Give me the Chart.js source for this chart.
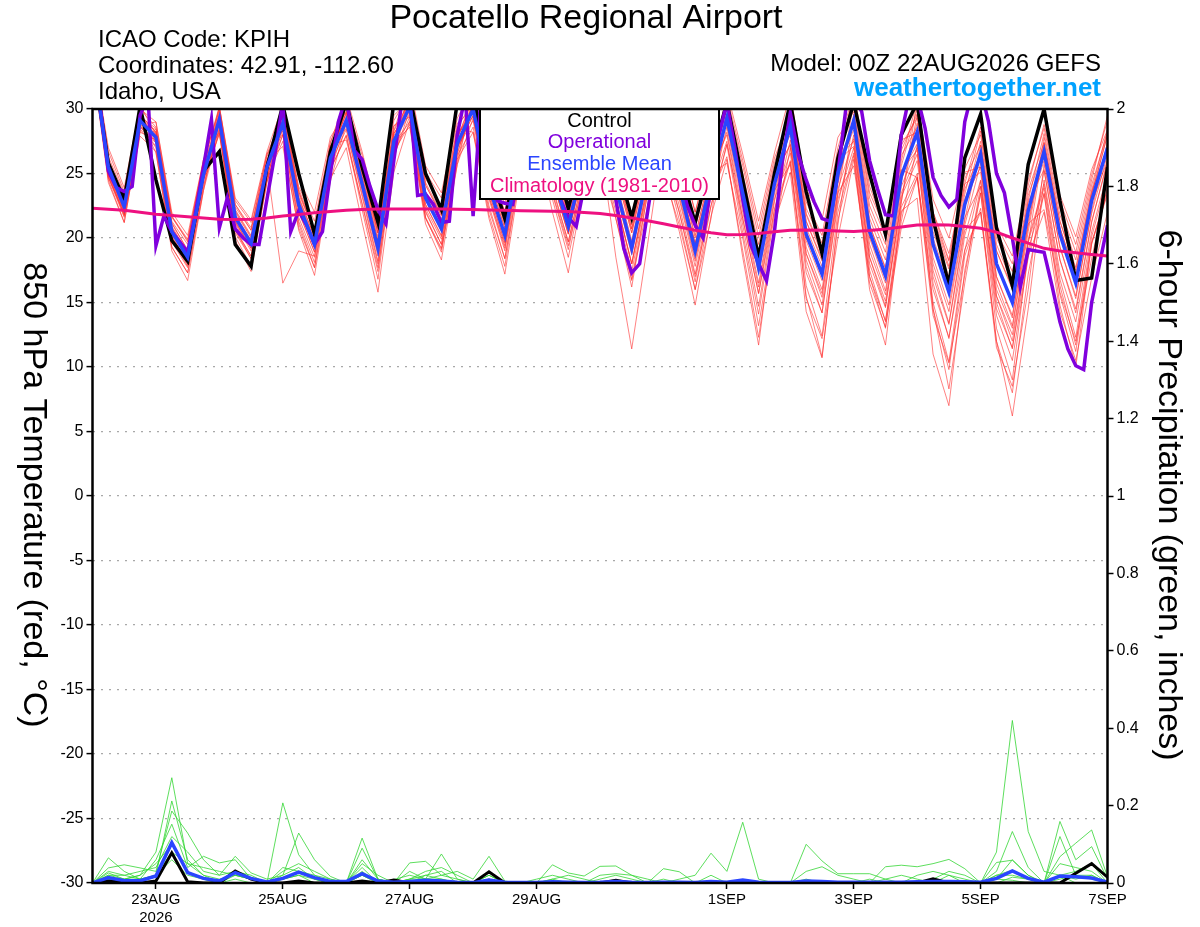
<!DOCTYPE html>
<html><head><meta charset="utf-8">
<script src="https://cdn.jsdelivr.net/npm/chart.js@4.4.1/dist/chart.umd.min.js"></script>
<style>html,body{margin:0;padding:0;background:#fff;}canvas{display:block;}</style>
</head><body>
<canvas id="c" width="1200" height="927"></canvas>
<script>
// ---------- time axis (forecast hours from 00Z 22AUG2026) ----------
const hours6 = [0,6,12,18,24,30,36,42,48,54,60,66,72,78,84,90,96,102,108,114,120,126,132,138,144,150,156,162,168,174,180,186,192,198,204,210,216,222,228,234,240,246,252,258,264,270,276,282,288,294,300,306,312,318,324,330,336,342,348,354,360,366,372,378,384];
const hours3 = [0,3,6,9,12,15,18,21,24,27,30,33,36,39,42,45,48,51,54,57,60,63,66,69,72,75,78,81,84,87,90,93,96,99,102,105,108,111,114,117,120,123,126,129,132,135,138,141,144,147,150,153,156,159,162,165,168,171,174,177,180,183,186,189,192,195,198,201,204,207,210,213,216,219,222,225,228,231,234,237,240,243,246,249,252,255,258,261,264,267,270,273,276,279,282,285,288,291,294,297,300,303,306,309,312,315,318,321,324,327,330,333,336,339,342,345,348,351,354,357,360,363,366,369,372,375,378,381,384];
const dateTickHours = [24,72,120,168,240,288,336,384];
const dateTickLabels = [['23AUG','2026'],'25AUG','27AUG','29AUG','1SEP','3SEP','5SEP','7SEP'];
const tempTicks = [-30,-25,-20,-15,-10,-5,0,5,10,15,20,25,30];
const precipTicks = [0,0.2,0.4,0.6,0.8,1,1.2,1.4,1.6,1.8,2];

// ---------- 850 hPa temperature (°C) ----------
const controlTemp = [34.0,25.8,23.0,30.2, 24.5,19.8,18.2,25.2, 26.7,19.5,17.8,25.5, 30.3,25.0,20.3,26.7, 30.5,25.5,21.2,30.5, 31.0,25.0,22.2,30.5, 31.0,25.5,21.5,27.0, 31.0,27.0,22.3,27.0, 30.5,26.0,21.6,26.5, 30.0,25.5,21.2,26.0, 30.5,24.5,18.5,25.0, 30.5,23.6,18.8,26.2, 30.5,25.0,20.3,28.0, 30.5,21.5,16.3,26.2, 29.6,20.8,16.3,25.7, 30.0,22.9,16.7,16.9, 25.5];
const meanTemp = [34.0,25.5,22.4,29.1, 27.8,20.5,18.5,24.9, 29.2,21.6,19.6,25.5, 28.9,22.6,19.5,26.2, 29.1,24.2,19.2,27.5, 30.2,23.1,20.7,27.3, 30.0,24.0,20.2,27.0, 29.5,25.0,20.9,26.0, 28.5,24.0,19.2,25.0, 28.0,24.0,19.0,24.5, 29.3,23.5,17.7,24.2, 28.7,20.3,17.2,25.0, 29.1,20.5,17.1,24.8, 28.2,19.5,15.8,22.6, 26.5,18.0,15.0,22.1, 26.7,20.3,16.5,22.9, 27.0];
const operationalTemp = [32.0,30.0,25.2,23.9,23.6,24.0,29.5,31.0, 19.4,21.7,20.5,19.7,18.9,22.0,25.5,29.2, 20.8,23.1,20.7,20.0,19.5,19.5,23.0,26.5, 30.5,20.5,22.1,21.0,19.5,20.5,25.0,29.0, 31.0,26.8,26.1,24.0,22.2,21.1,26.0,30.5, 31.0,23.3,23.4,22.6,21.2,21.3,28.0,31.0, 21.7,31.0,27.0,22.9,22.7,22.6,26.0,29.0, 30.5,28.0,25.0,23.0,21.6,20.9,24.0,27.0, 29.0,27.0,23.0,19.2,17.3,18.0,22.0,26.0, 28.0,27.0,25.0,22.5,21.0,20.0,24.0,28.0, 30.5,27.0,23.0,19.5,18.0,16.7,20.5,26.0, 29.7,26.5,24.5,22.8,21.5,21.3,25.0,30.0, 31.0,29.8,26.0,23.8,21.8,21.7,28.0,31.0, 31.0,28.5,24.7,23.3,22.4,23.0,29.0,31.5, 31.5,29.0,25.0,23.5,20.0,16.2,19.1,19.0, 18.9,16.3,13.5,11.4,10.1,9.8,15.0,18.0, 21.0];
const climatologyTemp = [22.30,22.22,22.15,22.00,21.85,21.75,21.65,21.55,21.45,21.43,21.45,21.55,21.70,21.82,21.95,22.05,22.15,22.20,22.25,22.25,22.25,22.25,22.25,22.22,22.20,22.18,22.15,22.12,22.10,22.08,22.05,21.98,21.90,21.75,21.55,21.33,21.10,20.85,20.60,20.40,20.25,20.28,20.35,20.48,20.60,20.62,20.60,20.55,20.50,20.58,20.70,20.85,21.00,21.02,21.00,20.90,20.75,20.45,20.00,19.60,19.20,19.00,18.85,18.72,18.60];

const memberTemp01 = [34.2,26.3,23.4,29.6, 28.2,21.2,19.0,25.3, 29.8,22.4,20.6,26.0, 29.1,23.0,19.9,26.4, 29.8,25.4,20.4,28.3, 30.6,23.5,21.3,27.7, 30.8,25.3,21.6,28.0, 30.0,25.9,21.9,26.7, 29.2,25.1,20.4,25.8, 28.4,24.6,19.6,24.9, 30.7,25.6,20.1,25.8, 29.8,21.9,19.0,26.2, 30.9,23.1,20.1,26.8, 29.6,21.6,18.2,24.2, 28.6,21.0,18.6,24.5, 28.5,22.9,19.5,24.9, 29.1];
const memberTemp02 = [33.8,25.0,21.8,28.7, 27.1,19.3,17.3,24.0, 28.6,20.7,18.6,24.9, 28.0,21.3,18.1,25.3, 28.0,22.6,17.4,26.4, 29.4,22.0,19.5,26.4, 28.6,21.8,17.8,25.6, 28.4,23.4,19.1,24.8, 27.1,22.0,16.8,23.4, 26.2,21.4,16.0,22.5, 27.2,20.4,14.1,21.8, 25.9,16.3,12.4,22.0, 26.6,17.0,13.0,21.9, 24.7,14.5,9.8,18.6, 22.3,12.0,8.0,17.2, 23.5,15.6,11.2,19.5, 23.8];
const memberTemp03 = [34.0,25.9,22.8,29.4, 28.5,21.6,19.8,25.7, 29.5,22.2,20.2,25.9, 30.0,24.0,21.3,27.4, 30.5,26.4,21.6,29.1, 31.2,24.6,22.5,28.5, 30.7,25.0,21.4,27.8, 30.9,27.0,23.3,27.6, 29.5,25.5,21.0,26.2, 29.8,26.5,22.0,26.5, 30.0,24.5,18.9,25.0, 30.1,22.3,19.6,26.6, 30.1,22.0,18.9,26.0, 30.6,23.0,20.0,25.4, 28.0,20.0,17.4,23.7, 27.4,21.3,17.7,23.7, 28.4];
const memberTemp04 = [33.6,24.5,21.2,28.3, 27.4,20.0,17.9,24.5, 28.1,20.1,17.8,24.3, 28.5,22.1,18.9,25.8, 28.4,23.2,18.0,26.7, 28.8,21.1,18.3,25.7, 29.3,23.0,19.0,26.2, 29.1,24.5,20.3,25.6, 27.4,22.5,17.4,23.8, 27.2,23.0,17.8,23.7, 27.5,21.0,14.7,22.2, 27.6,18.8,15.4,23.8, 27.7,18.5,14.7,23.2, 26.0,16.5,12.2,20.2, 24.5,15.5,12.0,19.9, 24.2,16.8,12.3,20.1, 24.6];
const memberTemp05 = [34.1,26.0,22.9,29.5, 27.6,20.2,18.1,24.6, 29.4,21.8,19.8,25.7, 16.5,19.0,18.6,25.5, 29.5,24.7,19.8,27.9, 30.9,24.1,21.8,28.1, 29.7,23.5,19.6,26.6, 29.8,25.5,21.5,26.4, 27.8,23.0,18.0,24.2, 28.0,24.0,19.0,24.5, 30.4,25.0,19.5,25.4, 28.0,19.3,16.0,24.2, 29.4,21.0,17.7,25.2, 26.8,17.5,13.4,21.0, 25.8,17.0,13.8,21.3, 27.0,20.8,17.1,23.3, 28.0];
const memberTemp06 = [33.9,25.2,22.0,28.9, 28.4,21.3,19.5,25.5, 28.9,21.1,19.0,25.1, 29.2,23.1,20.1,26.6, 28.8,23.7,18.6,27.1, 30.6,23.6,21.3,27.7, 31.0,25.5,22.0,28.2, 28.8,24.0,19.7,25.2, 28.9,24.5,19.8,25.4, 26.9,22.5,17.2,23.3, 28.6,22.5,16.5,23.4, 29.1,20.8,17.8,25.4, 28.4,19.5,15.9,24.0, 27.0,14.5,8.3,16.5, 23.5,14.0,10.5,18.5, 25.2,18.3,14.2,21.2, 26.0];
const memberTemp07 = [34.4,26.7,23.6,30.0, 29.0,22.0,20.2,26.1, 29.9,22.6,20.8,26.3, 29.6,23.6,20.5,27.0, 29.1,24.2,19.0,27.5, 29.6,22.1,19.5,26.6, 30.3,24.5,20.8,27.4, 30.2,26.0,22.0,26.8, 30.0,26.0,21.6,26.6, 28.7,25.0,20.2,25.3, 29.3,23.5,17.5,24.2, 30.5,22.8,20.2,27.0, 31.2,23.5,20.7,27.2, 29.3,21.0,17.6,23.8, 26.5,18.0,15.0,22.1, 26.0,19.3,15.3,22.1, 27.4];
const memberTemp08 = [33.7,24.7,21.6,27.9, 26.7,19.0,16.7,23.7, 28.4,20.6,18.4,24.7, 27.5,20.6,17.1,24.6, 27.0,21.2,15.8,25.1, 29.1,21.6,18.9,26.1, 28.2,21.5,17.2,25.0, 28.1,23.0,18.5,24.4, 27.8,23.0,18.0,24.2, 25.5,20.5,14.8,21.7, 26.1,19.0,12.3,20.6, 27.0,17.8,14.2,23.0, 27.0,17.5,13.5,22.4, 25.0,15.0,10.4,19.0, 24.4,15.0,11.4,19.7, 23.9,16.3,11.7,19.7, 23.5];
const memberTemp09 = [34.0,25.5,22.4,29.4, 28.0,20.8,18.9,25.8, 30.1,22.9,21.2,26.5, 29.5,23.4,20.5,26.8, 28.5,23.4,18.2,26.9, 31.6,25.1,23.1,28.9, 30.0,24.0,20.2,27.0, 29.1,24.5,20.3,25.6, 29.2,25.0,20.4,25.8, 29.0,25.5,20.8,25.7, 31.0,26.0,20.7,26.2, 29.4,21.3,18.4,25.8, 28.8,20.0,16.5,24.4, 28.9,20.5,17.0,23.4, 28.3,20.5,18.0,24.1, 28.8,23.3,20.1,25.3, 28.4];
const memberTemp10 = [34.3,24.7,21.9,28.7, 27.0,19.7,17.7,24.1, 28.9,21.3,19.3,25.2, 28.6,22.3,19.2,25.9, 30.2,25.7,20.7,28.7, 29.8,22.6,20.2,26.9, 31.3,25.8,22.0,28.4, 30.6,26.5,22.4,27.2, 27.5,18.5,11.4,19.5, 28.0,24.5,19.5,24.9, 28.2,22.0,16.2,23.0, 26.6,17.3,14.2,22.6, 28.0,19.0,15.6,23.5, 26.5,17.0,13.3,20.6, 22.0,12.0,6.2,14.5, 24.5,17.3,13.5,20.5, 25.0];
const memberTemp11 = [33.5,24.3,21.2,28.2, 27.6,20.8,18.2,25.2, 29.0,21.3,19.2,25.3, 28.6,22.8,19.4,26.4, 29.7,25.0,20.1,28.1, 30.0,23.3,20.5,27.0, 29.5,23.2,19.2,26.4, 29.2,25.3,20.7,26.3, 30.5,26.5,21.9,27.0, 29.5,26.0,21.2,26.1, 29.6,24.0,18.3,24.6, 27.3,18.3,14.8,23.4, 30.5,22.5,19.5,26.4, 28.6,20.0,16.4,23.0, 25.5,16.5,13.2,20.9, 27.8,21.8,18.3,24.1, 28.2];
const memberTemp12 = [34.1,25.7,22.6,30.0, 28.6,21.7,19.9,25.9, 30.2,23.1,21.4,26.7, 30.3,24.6,22.0,27.8, 29.8,25.2,20.4,28.3, 32.0,25.6,23.5,29.3, 31.6,26.0,22.6,28.6, 31.6,28.0,24.5,28.4, 28.8,23.7,19.4,25.3, 27.6,23.5,18.4,24.1, 31.4,26.5,21.3,26.6, 31.2,23.8,21.4,27.8, 29.8,21.5,18.3,25.6, 30.0,22.0,18.8,24.6, 27.2,19.0,16.2,22.9, 28.1,22.3,18.9,24.5, 29.5];
const memberTemp13 = [33.9,25.3,22.1,28.8, 27.4,19.9,17.8,24.5, 28.1,19.8,17.4,24.4, 28.0,21.1,17.7,25.3, 27.9,22.2,16.8,26.3, 29.9,22.6,20.1,27.0, 29.1,22.5,18.4,26.1, 27.7,22.0,17.3,24.2, 27.0,21.5,16.2,23.5, 26.8,22.0,16.6,23.3, 26.3,18.5,11.7,21.2, 25.1,14.3,10.7,21.4, 26.4,16.0,11.7,22.1, 23.1,11.0,7.0,17.5, 23.5,13.0,9.0,19.1, 23.4,14.8,10.0,19.6, 23.4];
const memberTemp14 = [34.5,27.0,23.9,30.3, 28.0,20.7,18.7,25.1, 29.4,21.4,19.8,25.3, 30.1,23.8,20.7,27.4, 31.0,26.7,21.7,29.5, 30.7,23.6,21.2,27.8, 30.2,23.8,20.4,27.2, 30.0,25.5,21.4,26.5, 29.5,25.5,20.7,26.5, 30.0,27.0,22.0,27.0, 30.3,24.5,18.7,25.2, 28.9,20.0,17.4,25.2, 31.5,24.0,20.6,27.6, 28.2,19.7,15.6,22.8, 27.5,19.5,16.5,23.3, 26.9,20.1,16.7,22.7, 26.0];
const memberTemp15 = [33.6,24.8,21.7,28.4, 27.6,20.3,18.3,24.7, 29.6,22.1,20.1,26.0, 28.1,21.6,18.5,25.2, 29.1,24.0,19.4,27.3, 29.0,21.6,19.2,26.1, 30.6,24.8,21.0,27.6, 28.5,23.8,19.7,25.0, 28.3,24.2,19.0,25.2, 28.8,25.0,20.0,25.3, 28.0,21.5,15.7,22.8, 29.8,21.8,18.7,26.2, 27.5,18.0,14.6,22.8, 29.6,21.5,17.8,24.2, 25.1,16.0,13.0,20.5, 27.4,21.3,17.5,23.6, 27.0];
const memberTemp16 = [34.2,25.9,22.8,29.5, 28.2,21.1,19.1,25.4, 28.4,20.4,18.4,24.6, 29.3,23.2,20.1,26.7, 28.9,23.9,18.9,27.3, 30.9,24.1,21.7,28.1, 29.4,23.2,19.4,26.4, 29.7,25.3,21.2,26.2, 28.1,23.5,18.7,24.6, 27.5,23.2,18.2,23.9, 29.6,24.0,18.2,24.6, 28.4,19.8,16.7,24.6, 29.3,20.2,16.8,25.0, 27.3,18.0,14.3,21.4, 27.2,19.0,16.0,22.8, 25.3,18.3,14.5,21.3, 25.8];
const memberTemp17 = [34.0,26.1,23.0,29.7, 27.4,20.1,18.1,24.5, 30.2,22.6,20.6,26.5, 28.3,22.0,18.9,25.6, 30.3,25.4,20.4,28.7, 29.4,22.3,19.9,26.5, 30.5,24.5,20.7,27.5, 28.0,23.5,19.4,24.5, 30.0,25.5,20.7,26.5, 26.0,22.0,17.0,22.5, 27.3,21.5,15.7,22.2, 26.0,15.5,10.8,21.0, 29.6,21.0,17.6,25.3, 24.7,16.0,12.3,19.1, 22.0,11.5,8.5,16.0, 25.7,19.3,15.5,21.9, 26.5];
const memberTemp18 = [33.6,25.1,22.0,28.7, 29.0,21.7,19.7,26.1, 28.2,20.6,18.6,24.5, 29.9,23.6,20.5,27.2, 27.6,22.7,17.7,26.0, 31.4,24.3,21.9,28.5, 28.2,22.2,18.4,25.2, 30.3,25.8,21.7,26.8, 26.0,21.5,16.7,22.5, 28.5,24.5,19.5,25.0, 25.8,20.0,13.2,20.7, 29.7,21.3,18.2,26.0, 27.1,18.5,15.1,22.8, 30.7,22.0,18.3,25.1, 25.5,17.0,14.0,21.1, 22.2,15.8,12.0,18.4, 24.0];
const memberTemp19 = [34.1,25.6,22.5,29.2, 26.6,19.3,17.3,23.7, 29.6,22.0,20.0,25.9, 27.1,20.8,17.7,24.4, 28.9,24.0,19.0,27.3, 28.6,21.5,19.1,25.7, 31.0,25.0,21.2,28.0, 29.0,24.5,20.4,25.5, 28.2,23.7,18.9,24.7, 25.0,21.0,16.0,21.5, 30.1,24.3,18.5,25.0, 27.2,18.8,15.7,23.5, 25.6,17.0,13.6,21.3, 27.2,18.5,14.8,21.6, 24.0,15.5,12.5,19.6, 27.2,20.8,17.0,23.4, 28.0];
const memberTemp20 = [33.4,24.9,21.8,28.5, 28.2,20.9,18.9,25.3, 28.8,21.2,19.2,25.1, 29.1,22.8,19.7,26.4, 29.7,24.8,19.8,28.1, 30.0,23.4,20.9,27.1, 29.5,23.5,19.7,26.5, 31.7,27.2,23.1,28.2, 27.3,22.8,18.0,23.8, 29.8,25.8,20.8,26.3, 28.8,23.0,17.2,23.7, 25.7,15.3,12.2,20.0, 26.1,16.5,13.1,20.8, 24.7,14.0,10.3,17.1, 24.0,14.5,11.5,18.6, 22.0,14.3,10.5,16.9, 22.0];

// ---------- 6-hour precipitation (inches) ----------
const controlPrecip = [0,0.005,0.002,0,0.005,0.078,0.003,0, 0,0.031,0.01,0,0,0.005,0,0, 0,0.005,0,0.008,0,0.002,0,0, 0,0.029,0,0,0,0,0,0, 0,0.007,0,0,0,0,0,0, 0,0,0,0,0,0,0,0, 0,0,0,0,0,0.011,0,0, 0,0,0,0,0,0,0.025,0.05, 0.015];
const meanPrecip = [0,0.014,0.006,0.006,0.018,0.104,0.027,0.012, 0.005,0.027,0.012,0.003,0.012,0.028,0.014,0.004, 0.004,0.024,0.005,0.002,0.004,0.007,0.005,0.002, 0.001,0.008,0.002,0.001,0.001,0.003,0.002,0.001, 0.002,0.004,0.002,0.001,0.002,0.002,0.001,0.004, 0.002,0.008,0.002,0.001,0.001,0.005,0.004,0.002, 0.002,0.002,0.002,0.002,0.003,0.004,0.004,0.003, 0.002,0.012,0.031,0.012,0.002,0.018,0.016,0.013, 0.002];
const memberPrecip01 = [0,0.02,0.01,0.02,0.08,0.272,0.05,0.02, 0,0.03,0.01,0,0.01,0.02,0.01,0, 0,0.116,0.01,0,0.01,0.02,0.01,0, 0,0.01,0,0,0,0.01,0,0, 0.01,0.02,0.01,0,0.01,0,0,0, 0,0,0,0,0,0.01,0,0, 0,0,0.01,0.02,0.01,0,0,0, 0,0.03,0.133,0.04,0,0.02,0.01,0.02, 0];
const memberPrecip02 = [0,0.065,0.03,0.01,0.02,0.212,0.06,0.02, 0.01,0.02,0.01,0,0.207,0.073,0.02,0.01, 0,0.02,0,0,0.01,0.01,0.075,0.01, 0,0.01,0,0,0,0,0,0, 0,0,0,0,0,0,0,0, 0,0,0,0,0,0.10,0.057,0.024, 0.024,0.024,0.01,0,0,0,0,0, 0,0.01,0.06,0.02,0,0.12,0.02,0.01, 0];
const memberPrecip03 = [0,0.039,0.047,0.039,0.03,0.186,0.129,0.06, 0.02,0.069,0.026,0.01,0.02,0.129,0.06,0.017, 0,0.09,0.01,0,0.052,0.056,0.02,0.03, 0.01,0.069,0.005,0,0,0.047,0.026,0.018, 0.043,0.044,0.02,0,0.037,0.029,0,0, 0,0,0,0,0,0,0,0, 0,0,0.042,0.046,0.042,0.05,0.061,0.037, 0,0.08,0.42,0.133,0.03,0.02,0,0, 0];
const memberPrecip04 = [0,0.026,0.01,0.01,0.06,0.152,0.04,0.069, 0.052,0.06,0.01,0,0.04,0.03,0.01,0, 0,0.04,0,0.009,0.02,0.01,0,0, 0,0.02,0,0,0.01,0.02,0.01,0, 0.02,0.024,0.02,0.01,0,0.01,0.02,0.077, 0.03,0.157,0.01,0,0,0,0,0, 0,0.01,0,0,0,0,0.02,0.01, 0,0.053,0.059,0.02,0,0.068,0.103,0.137, 0.016];
const memberPrecip05 = [0,0.02,0.02,0.03,0.04,0.12,0.08,0.03, 0.02,0.03,0.02,0,0.03,0.05,0.03,0.01, 0,0.06,0.01,0,0.01,0.03,0.04,0.02, 0,0.03,0,0,0,0.01,0.02,0.01, 0,0,0,0,0,0,0,0, 0,0,0,0,0,0.03,0.042,0.02, 0.01,0,0,0,0.02,0.03,0.02,0, 0,0.02,0.033,0.01,0,0.159,0.06,0.094, 0.01];
const memberPrecip06 = [0,0.01,0.01,0.02,0.05,0.10,0.03,0.01, 0,0.02,0.01,0,0.01,0.03,0.02,0, 0,0.03,0,0,0,0.02,0.03,0, 0,0.02,0,0,0,0,0,0, 0,0,0,0,0,0,0,0.02, 0,0,0,0,0,0,0,0, 0,0,0,0,0,0,0,0, 0,0.01,0.007,0,0,0.02,0.03,0.05, 0];
const memberPrecip07 = [0,0.03,0.02,0.01,0.02,0.08,0.05,0.04, 0.03,0.02,0.01,0,0.02,0.04,0.01,0, 0,0.05,0.02,0,0.03,0.01,0.02,0.01, 0,0,0,0,0,0,0,0, 0,0,0,0,0,0,0,0, 0,0,0,0,0,0,0,0, 0,0,0,0,0,0.01,0.03,0.02, 0,0.02,0.02,0.01,0,0.05,0.04,0.03, 0];
const memberPrecip08 = [0,0.01,0,0,0.02,0.06,0.02,0.01, 0,0.01,0,0,0.01,0.02,0,0, 0,0.02,0,0,0,0.01,0.01,0, 0,0.01,0,0,0,0,0,0, 0,0,0,0,0,0,0,0, 0,0,0,0,0,0,0,0, 0,0,0,0,0,0,0,0, 0,0,0.015,0.01,0,0.01,0.02,0.02, 0];

const memberTemps = [memberTemp01,memberTemp02,memberTemp03,memberTemp04,memberTemp05,memberTemp06,memberTemp07,memberTemp08,memberTemp09,memberTemp10,memberTemp11,memberTemp12,memberTemp13,memberTemp14,memberTemp15,memberTemp16,memberTemp17,memberTemp18,memberTemp19,memberTemp20];
const memberPrecips = [memberPrecip01,memberPrecip02,memberPrecip03,memberPrecip04,memberPrecip05,memberPrecip06,memberPrecip07,memberPrecip08];

const legendLabels = ['Control','Operational','Ensemble Mean','Climatology (1981-2010)'];

// ---------- styling ----------
const FONT = '"Liberation Sans", Arial, Helvetica, sans-serif';
Chart.defaults.font.family = FONT;
const C_BLACK = '#000000', C_PURPLE = '#8000dd', C_BLUE = '#2a45ff', C_PINK = '#ee1080';
const C_RED = 'rgba(255,45,45,0.75)', C_GREEN = '#33d633';
const legendColors = [C_BLACK, C_PURPLE, C_BLUE, C_PINK];

function pts(hours, vals){ return vals.map((v,i)=>({x:hours[i], y:v})); }
function line(data, axis, color, width, order){
  return {data, yAxisID: axis, borderColor: color, borderWidth: width, order,
          pointRadius: 0, fill: false, tension: 0, clip: 0, parsing: false};
}

const datasets = [];
memberPrecips.forEach(p => datasets.push(line(pts(hours6,p),'y2',C_GREEN,0.8,7)));
memberTemps.forEach(t => datasets.push(line(pts(hours6,t),'y',C_RED,0.8,6)));
datasets.push(line(pts(hours6,controlPrecip),'y2',C_BLACK,3,5));
datasets.push(line(pts(hours6,meanPrecip),'y2',C_BLUE,3.5,4));
datasets.push(line(pts(hours6,controlTemp),'y',C_BLACK,3.5,3));
datasets.push(line(pts(hours3,operationalTemp),'y',C_PURPLE,3.5,2));
datasets.push(line(pts(hours6,meanTemp),'y',C_BLUE,3.5,1));
datasets.push(line(pts(hours6,climatologyTemp),'y',C_PINK,3,0));

const decor = {
  id: 'decor',
  afterDatasetsDraw(chart){
    const ctx = chart.ctx, a = chart.chartArea;
    ctx.save();
    const bx = 480, bw = 239, bh = 90;
    ctx.fillStyle = '#fff';
    ctx.fillRect(bx, a.top, bw, bh);
    ctx.lineWidth = 2; ctx.strokeStyle = '#000';
    ctx.strokeRect(bx, a.top, bw, bh);
    ctx.font = '20px ' + FONT; ctx.textAlign = 'center'; ctx.textBaseline = 'middle';
    const ly = [121, 142, 164, 186];
    legendLabels.forEach((t,i)=>{ ctx.fillStyle = legendColors[i]; ctx.fillText(t, bx + bw/2, ly[i]); });
    ctx.lineWidth = 2.5; ctx.strokeStyle = '#000';
    ctx.strokeRect(a.left, a.top, a.right - a.left, a.bottom - a.top);
    ctx.restore();
  },
  afterDraw(chart){
    const ctx = chart.ctx;
    ctx.save();
    ctx.fillStyle = '#000'; ctx.textBaseline = 'middle';
    ctx.textAlign = 'center'; ctx.font = '34px ' + FONT;
    ctx.fillText('Pocatello Regional Airport', 586, 19);
    ctx.textAlign = 'left'; ctx.font = '24px ' + FONT;
    ctx.fillText('ICAO Code: KPIH', 98, 40);
    ctx.fillText('Coordinates: 42.91, -112.60', 98, 66);
    ctx.fillText('Idaho, USA', 98, 92);
    ctx.textAlign = 'right';
    ctx.fillText('Model: 00Z 22AUG2026 GEFS', 1101, 64);
    ctx.font = 'bold 26px ' + FONT; ctx.fillStyle = '#00a2ff';
    ctx.fillText('weathertogether.net', 1101, 89);
    ctx.fillStyle = '#000'; ctx.font = '34px ' + FONT; ctx.textAlign = 'center';
    ctx.save(); ctx.translate(33, 495); ctx.rotate(Math.PI/2);
    ctx.fillText('850 hPa Temperature (red, °C)', 0, 0); ctx.restore();
    ctx.save(); ctx.translate(1168, 495); ctx.rotate(Math.PI/2);
    ctx.fillText('6-hour Precipitation (green, inches)', 0, 0); ctx.restore();
    ctx.restore();
  }
};

new Chart(document.getElementById('c'), {
  type: 'line',
  data: { datasets },
  plugins: [decor],
  options: {
    responsive: false, animation: false, devicePixelRatio: 1,
    layout: { padding: { top: 109, left: 0, right: 0, bottom: 0 } },
    plugins: { legend: { display: false }, tooltip: { enabled: false }, title: { display: false } },
    scales: {
      x: {
        type: 'linear', min: 0, max: 384,
        afterBuildTicks: s => { s.ticks = dateTickHours.map(v => ({ value: v })); },
        afterFit: s => { s.height = 44; },
        ticks: { autoSkip: false, maxRotation: 0, color: '#000', padding: 2,
                 font: { size: 15 }, callback: (v, i) => dateTickLabels[i] },
        grid: { drawOnChartArea: false, drawTicks: true, tickLength: 6, tickColor: '#000', tickWidth: 1.5 },
        border: { display: false }
      },
      y: {
        position: 'left', min: -30, max: 30,
        afterBuildTicks: s => { s.ticks = tempTicks.map(v => ({ value: v })); },
        afterFit: s => { s.width = 92.5; },
        ticks: { color: '#000', padding: 3, font: { size: 16 }, callback: v => String(v) },
        grid: { color: c => (c.tick && Math.abs(c.tick.value) === 30) ? 'rgba(0,0,0,0)' : '#a8a8a8',
                lineWidth: 1.2, tickLength: 6, tickColor: '#000', tickWidth: 1.5 },
        border: { display: false, dash: [2, 6] }
      },
      y2: {
        position: 'right', min: 0, max: 2,
        afterBuildTicks: s => { s.ticks = precipTicks.map(v => ({ value: v })); },
        afterFit: s => { s.width = 92.5; },
        ticks: { color: '#000', padding: 3, font: { size: 16 }, callback: v => String(Math.round(v * 10) / 10) },
        grid: { drawOnChartArea: false, tickLength: 6, tickColor: '#000', tickWidth: 1.5 },
        border: { display: false }
      }
    }
  }
});
</script>
</body></html>
